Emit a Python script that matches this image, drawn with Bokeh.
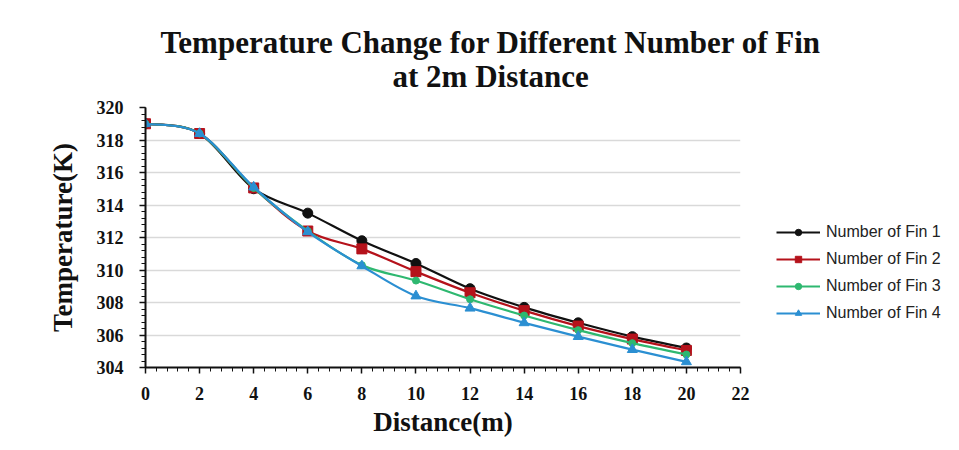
import numpy as np
from bokeh.plotting import figure
from bokeh.models import Title, Legend, LegendItem, ColumnDataSource, FixedTicker
from bokeh.embed import file_html
from bokeh.resources import INLINE

# ---- data ----
distance = [0, 2, 4, 6, 8, 10, 12, 14, 16, 18, 20]
fin1 = [319.0, 318.4, 315.0, 313.5, 311.8, 310.4, 308.85, 307.7, 306.75, 305.9, 305.2]
fin2 = [319.0, 318.4, 315.05, 312.4, 311.3, 309.9, 308.6, 307.5, 306.55, 305.75, 305.05]
fin3 = [319.0, 318.4, 315.05, 312.4, 310.3, 309.35, 308.2, 307.2, 306.3, 305.5, 304.8]
fin4 = [319.0, 318.4, 315.1, 312.35, 310.25, 308.4, 307.65, 306.75, 305.9, 305.1, 304.35]
series_names = ["Number of Fin 1", "Number of Fin 2", "Number of Fin 3", "Number of Fin 4"]
x_ticks = [0, 2, 4, 6, 8, 10, 12, 14, 16, 18, 20, 22]
y_ticks = [304, 306, 308, 310, 312, 314, 316, 318, 320]
title_line1 = "Temperature Change for Different Number of Fin"
title_line2 = "at 2m Distance"

colors = ["#111111", "#b5121b", "#2eb870", "#2b8fd2"]
markers = ["circle", "square", "circle", "triangle"]
msizes = [10, 10, 7, 10]

SERIF = "Liberation Serif"

p = figure(output_backend="svg", toolbar_location=None,
           x_range=(0, 22), y_range=(304, 320),
           frame_width=595, frame_height=260,
           min_border_left=145, min_border_right=0, min_border_top=107, min_border_bottom=0,
           title=None)

p.add_layout(Title(text=title_line2, align="left", offset=247,
                   text_font=SERIF, text_font_size="31px", text_font_style="bold",
                   text_color="#111111", standoff=27), "above")
p.add_layout(Title(text=title_line1, align="left", offset=15,
                   text_font=SERIF, text_font_size="31px", text_font_style="bold",
                   text_color="#111111", standoff=-32), "above")

p.outline_line_color = None
p.xgrid.grid_line_color = None
p.ygrid.grid_line_color = "#d9d9d9"
p.ygrid.grid_line_width = 1.5
p.ygrid.ticker = FixedTicker(ticks=y_ticks)

for ax in (p.xaxis[0], p.yaxis[0]):
    ax.axis_line_color = "#111111"
    ax.axis_line_width = 2
    ax.major_tick_line_color = "#111111"
    ax.minor_tick_line_color = "#111111"
    ax.major_tick_line_width = 1.5
    ax.minor_tick_line_width = 1
    ax.major_tick_out = 6
    ax.major_tick_in = 0
    ax.minor_tick_out = 4
    ax.minor_tick_in = 0
    ax.major_label_text_font = SERIF
    ax.major_label_text_font_style = "bold"
    ax.major_label_text_font_size = "18px"
    ax.major_label_text_color = "#111111"
    ax.axis_label_text_font = SERIF
    ax.axis_label_text_font_style = "bold"
    ax.axis_label_text_font_size = "27px"
    ax.axis_label_text_color = "#111111"

p.xaxis.ticker = FixedTicker(ticks=x_ticks, minor_ticks=list(np.arange(0, 22.01, 0.4)))
p.yaxis.ticker = FixedTicker(ticks=y_ticks, minor_ticks=list(np.arange(304, 320.01, 0.4)))
p.xaxis.axis_label = "Distance(m)"
p.yaxis.axis_label = "Temperature(K)"
p.xaxis.major_label_standoff = 13
p.yaxis.major_label_standoff = 16
p.xaxis.axis_label_standoff = 4
p.yaxis.axis_label_standoff = 16


def bezier_segments(xs, ys):
    xs = np.asarray(xs, float)
    ys = np.asarray(ys, float)
    n = len(xs)
    x0, y0, x1, y1, cx0, cy0, cx1, cy1 = ([] for _ in range(8))
    for i in range(n - 1):
        ip = max(i - 1, 0)
        inn = min(i + 2, n - 1)
        x0.append(xs[i]); y0.append(ys[i])
        x1.append(xs[i + 1]); y1.append(ys[i + 1])
        cx0.append(xs[i] + (xs[i + 1] - xs[ip]) / 6.0)
        cy0.append(ys[i] + (ys[i + 1] - ys[ip]) / 6.0)
        cx1.append(xs[i + 1] - (xs[inn] - xs[i]) / 6.0)
        cy1.append(ys[i + 1] - (ys[inn] - ys[i]) / 6.0)
    return dict(x0=x0, y0=y0, x1=x1, y1=y1, cx0=cx0, cy0=cy0, cx1=cx1, cy1=cy1)


items = []
for name, vals, col, mk, ms in zip(series_names, [fin1, fin2, fin3, fin4], colors, markers, msizes):
    src = ColumnDataSource(bezier_segments(distance, vals))
    p.bezier(x0="x0", y0="y0", x1="x1", y1="y1", cx0="cx0", cy0="cy0", cx1="cx1", cy1="cy1",
             source=src, line_color=col, line_width=2.2)
    sc = p.scatter(distance, vals, marker=mk, size=ms, fill_color=col, line_color=col)
    # single-point line: invisible in the plot, used only for the legend swatch
    lg = p.line(x=distance[:1], y=vals[:1], line_color=col, line_width=2.2)
    items.append(LegendItem(label=name, renderers=[lg, sc]))

legend = Legend(items=items, location=(36, 44), border_line_color=None,
                background_fill_alpha=0, label_text_font="Liberation Sans",
                label_text_font_size="16px", label_text_color="#222222",
                glyph_width=44, glyph_height=16, label_height=20, spacing=7,
                padding=5, margin=0, label_standoff=6)
p.add_layout(legend, "right")

open("out.html", "w").write(file_html(p, INLINE))
